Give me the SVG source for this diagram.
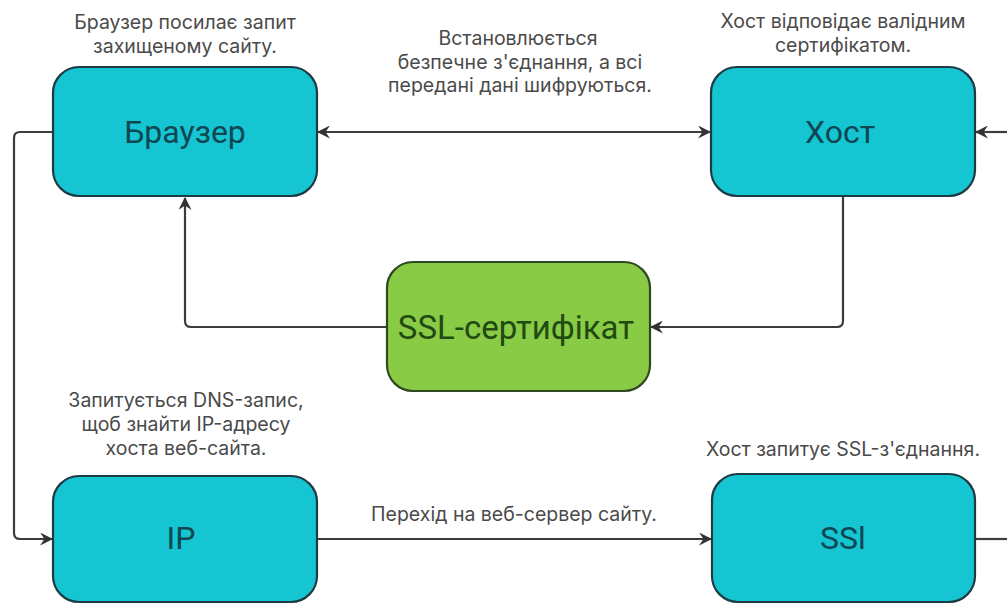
<svg xmlns="http://www.w3.org/2000/svg" width="1007" height="604" viewBox="0 0 1007 604">
<style>
.box{fill:#15c5d1;stroke:#1d3b44;stroke-width:2.2}
.green{fill:#8acb45;stroke:#2f4a22;stroke-width:2.2}
.lbl{font-family:Roboto,"Liberation Sans",sans-serif;font-size:32px;fill:#0e4752;text-anchor:middle}
.glbl{font-family:Roboto,"Liberation Sans",sans-serif;font-size:33px;fill:#1f4a12;text-anchor:middle}
.note{font-family:Inter,Roboto,"Liberation Sans",sans-serif;font-size:19.5px;fill:#4a4a4a;text-anchor:middle}
.conn{fill:none;stroke:#3c3c3c;stroke-width:2.2}
</style>
<defs>
<marker id="ah" viewBox="0 0 12 12" refX="11" refY="6" markerWidth="13" markerHeight="13" markerUnits="userSpaceOnUse" orient="auto-start-reverse">
<path d="M0,0 L12,6 L0,12 L4,6 Z" fill="#333"/>
</marker>
</defs>
<g id="connectors">
<path class="conn" d="M318,132 L710,132" marker-start="url(#ah)" marker-end="url(#ah)"/>
<path class="conn" d="M1007,132 L976,132" marker-end="url(#ah)"/>
<path class="conn" d="M843,197 L843,321 Q843,327 837,327 L651,327" marker-end="url(#ah)"/>
<path class="conn" d="M386,327 L191,327 Q185,327 185,321 L185,198" marker-end="url(#ah)"/>
<path class="conn" d="M53,132 L20,132 Q14,132 14,138 L14,533 Q14,539 20,539 L52,539" marker-end="url(#ah)"/>
<path class="conn" d="M317,539 L711,539" marker-end="url(#ah)"/>
<path class="conn" d="M976,539 L1007,539"/>
</g>
<g id="browser">
<rect class="box" x="53" y="67" width="264" height="129" rx="26"/>
<text class="lbl" x="185" y="143">Браузер</text>
</g>
<g id="host">
<rect class="box" x="711" y="67" width="264" height="129" rx="26"/>
<text class="lbl" x="840" y="143">Хост</text>
</g>
<g id="ssl-cert">
<rect class="green" x="387" y="262" width="263" height="129" rx="26"/>
<text class="glbl" x="516" y="339">SSL-сертифікат</text>
</g>
<g id="ip">
<rect class="box" x="53" y="476" width="264" height="126" rx="26"/>
<text class="lbl" x="181" y="549">IP</text>
</g>
<g id="ssl">
<rect class="box" x="712" y="474" width="263" height="128" rx="26"/>
<text class="lbl" x="843" y="549">SSl</text>
</g>
<g id="notes">
<text class="note" x="185" y="29">Браузер посилає запит</text>
<text class="note" x="185" y="53">захищеному сайту.</text>
<text class="note" x="518" y="45">Встановлюється</text>
<text class="note" x="520" y="69">безпечне з'єднання, а всі</text>
<text class="note" x="520" y="92">передані дані шифруються.</text>
<text class="note" x="843" y="28">Хост відповідає валідним</text>
<text class="note" x="843" y="52">сертифікатом.</text>
<text class="note" x="186" y="407">Запитується DNS-запис,</text>
<text class="note" x="186" y="431">щоб знайти IP-адресу</text>
<text class="note" x="186" y="455">хоста веб-сайта.</text>
<text class="note" x="514" y="521">Перехід на веб-сервер сайту.</text>
<text class="note" x="843" y="456">Хост запитує SSL-з'єднання.</text>
</g>
</svg>
